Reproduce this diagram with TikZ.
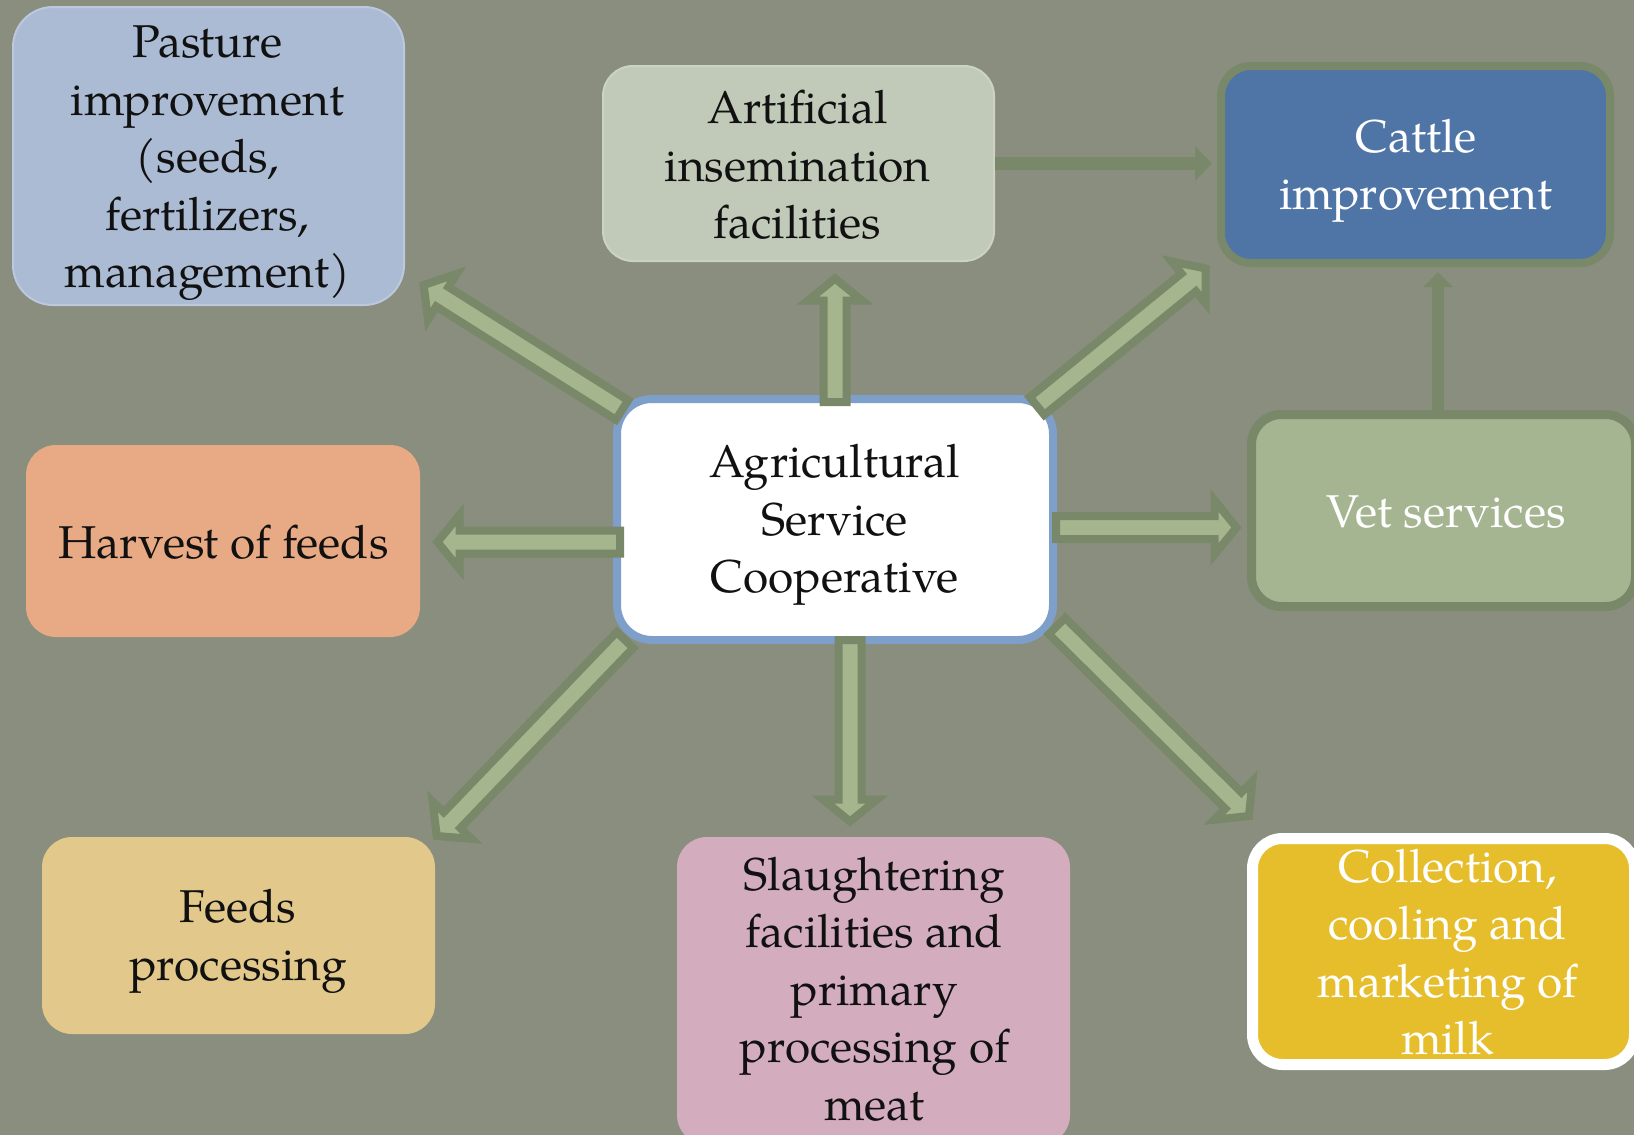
\documentclass[tikz,border=0pt]{standalone}
\usepackage{fontspec}
\setmainfont{TeX Gyre Pagella}
\usetikzlibrary{calc,arrows.meta}
\definecolor{bgc}{RGB}{137,142,126}
\definecolor{pastc}{RGB}{172,187,212}
\definecolor{pastl}{RGB}{188,200,222}
\definecolor{artc}{RGB}{193,201,184}
\definecolor{artl}{RGB}{204,211,196}
\definecolor{cattc}{RGB}{79,116,166}
\definecolor{grnline}{RGB}{121,136,104}
\definecolor{hubline}{RGB}{125,159,201}
\definecolor{harvc}{RGB}{232,170,132}
\definecolor{vetc}{RGB}{165,180,145}
\definecolor{feedc}{RGB}{226,200,138}
\definecolor{slauc}{RGB}{211,172,189}
\definecolor{milkc}{RGB}{230,190,44}
\definecolor{arrfill}{RGB}{165,181,141}
\definecolor{txtblack}{RGB}{17,17,17}
\newcommand{\bahw}{11.5pt}
\newcommand{\bahh}{27pt}
\newcommand{\bahl}{22pt}
\newcommand{\blockarr}[2]{%
  \coordinate (bab) at ($(#2)!\bahl!(#1)$);
  \draw[barrowstyle] ($(#1)!\bahw!90:(#2)$) -- ($(bab)!\bahw!90:(#2)$) -- ($(bab)!\bahh!90:(#2)$) -- (#2) -- ($(bab)!\bahh!-90:(#2)$) -- ($(bab)!\bahw!-90:(#2)$) -- ($(#1)!\bahw!-90:(#2)$) -- cycle;
}
\begin{document}
\begin{tikzpicture}[x=1pt,y=-1pt,
  box/.style={rectangle, rounded corners=30pt, inner sep=0pt},
  txt/.style={font=\fontsize{46pt}{57.5pt}\selectfont, align=center, inner sep=0pt, text=txtblack},
  wtxt/.style={txt, text=white},
  barrowstyle/.style={fill=arrfill, draw=grnline, line width=8pt, line join=miter},
  link/.style={draw=grnline, line width=13pt}
]
\useasboundingbox (0,0) rectangle (1634,1135);
\clip (0,0) rectangle (1634,1135);
\fill[bgc] (0,0) rectangle (1634,1135);

% boxes
\node[box, rounded corners=40pt, fill=pastc, draw=pastl, line width=2pt, minimum width=391pt, minimum height=298pt] (pasture) at (208.5,156) {};
\node[box, fill=artc, draw=artl, line width=2pt, minimum width=391pt, minimum height=195pt] (artif) at (798.5,163.5) {};
\node[box, fill=cattc, draw=grnline, line width=8pt, minimum width=389pt, minimum height=197pt] (cattle) at (1415.5,164.5) {};
\node[box, rounded corners=35pt, fill=white, draw=hubline, line width=8pt, minimum width=436pt, minimum height=241pt] (hub) at (835,519.5) {};
\node[box, fill=harvc, minimum width=394pt, minimum height=192pt] (harvest) at (223,541) {};
\node[box, fill=vetc, draw=grnline, line width=9pt, minimum width=384pt, minimum height=192pt] (vet) at (1443.5,510.5) {};
\node[box, fill=feedc, minimum width=393pt, minimum height=197pt] (feeds) at (238.5,935.5) {};
\node[box, fill=slauc, minimum width=393pt, minimum height=308pt] (slaught) at (873.5,991) {};
\node[box, fill=milkc, draw=white, line width=11pt, minimum width=382pt, minimum height=226pt] (milk) at (1443.5,951.5) {};

% thin connectors
\draw[link, -{Triangle[length=17pt,width=34pt]}, shorten >=5pt] (artif.east) -- (artif.east -| cattle.west);
\coordinate (vtop) at ([xshift=-5.5pt]vet.north);
\draw[link, line width=12pt, -{Triangle[length=15pt,width=29pt]}, shorten >=5pt] (vtop) -- (vtop |- cattle.south);

% block arrows from the hub
\coordinate (a1s) at (622,410);   \coordinate (a1t) at (423.7,285);
\coordinate (a2s) at (835,402);   \coordinate (a2t) at (835,278.5);
\coordinate (a3s) at (1037,406);  \coordinate (a3t) at (1205.7,268.5);
\coordinate (a4s) at (620,542);   \coordinate (a4t) at (437.5,542);
\coordinate (a5s) at (625,640);   \coordinate (a5t) at (436.8,836);
\coordinate (a6s) at (850,640);   \coordinate (a6t) at (850,821.5);
\coordinate (a7s) at (1057,626);  \coordinate (a7t) at (1249,816);
\coordinate (a8s) at (1056,527.5);\coordinate (a8t) at (1236.5,527.5);
\blockarr{a1s}{a1t}
\blockarr{a2s}{a2t}
\blockarr{a3s}{a3t}
\blockarr{a4s}{a4t}
\blockarr{a5s}{a5t}
\blockarr{a6s}{a6t}
\blockarr{a7s}{a7t}
\blockarr{a8s}{a8t}

% texts
\node[txt] (pastureT) at (207.5,163.5) {Pasture\\improvement\\(seeds,\\fertilizers,\\management)};
\node[txt] (artifT) at (797.5,165) {Artificial\\insemination\\facilities};
\node[wtxt] (cattleT) at (1416,171) {Cattle\\improvement};
\node[txt] (hubT) at (834.5,525) {Agricultural\\Service\\Cooperative};
\node[txt] (harvestT) at (223.5,542.5) {Harvest of feeds};
\node[wtxt] (vetT) at (1446,512) {Vet services};
\node[txt] (feedsT) at (238,941.5) {Feeds\\processing};
\node[txt] (slaughtT) at (874.5,989) {Slaughtering\\facilities and\\primary\\processing of\\meat};
\node[wtxt] (milkT) at (1447.5,952) {Collection,\\cooling and\\marketing of\\milk};
\end{tikzpicture}
\end{document}
